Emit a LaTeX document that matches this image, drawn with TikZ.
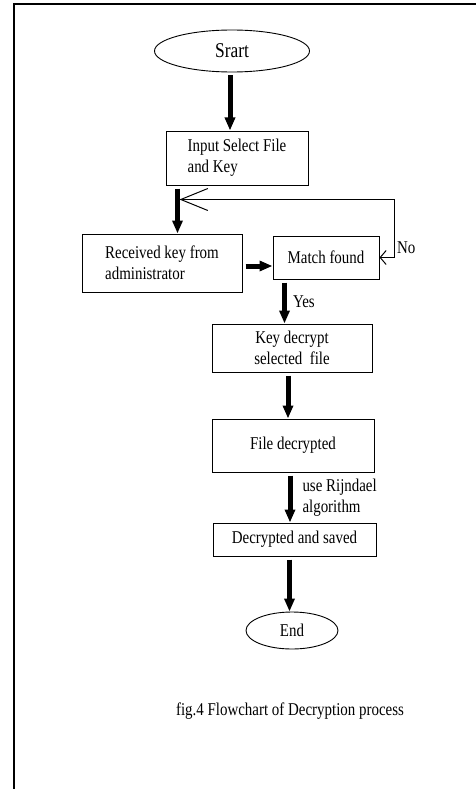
\documentclass[tikz,border=0pt]{standalone}
\usepackage{fontspec}
\setmainfont[FakeStretch=0.83]{Liberation Serif}
\usetikzlibrary{arrows.meta}
\usetikzlibrary{calc}
\usetikzlibrary{shapes.geometric}
\newcommand{\fcfont}{\fontsize{18}{21}\selectfont}
\tikzset{
  fcbox/.style={
    draw, line width=1pt, inner sep=2pt, font=\fcfont},
  fcterm/.style={
    draw, ellipse, line width=0.9pt, inner sep=0pt, font=\fcfont},
  fcarrow/.style={
    -{Triangle[length=13pt, width=10pt]}, line width=5pt,
    shorten <=3pt},
  fcloop/.style={
    {Straight Barb[length=6pt, width=14pt]}-{Straight Barb[length=27pt, width=22pt]},
    line width=1pt},
  fclabel/.style={font=\fcfont, align=left, inner sep=1pt},
}

\begin{document}
\begin{tikzpicture}[x=1pt, y=-1pt]
\useasboundingbox (0,0) rectangle (476,789);

% Page frame, left and top rules only.
\draw[line width=2pt] (14,789) -- (14,4) -- (476,4);

% Terminals and process boxes.
\node[fcterm, minimum width=155pt, minimum height=42pt,
      font=\fontsize{21}{24}\selectfont]
  (start) at (232,51) {Srart};
\node[fcbox, minimum width=142pt, minimum height=54pt, align=left]
  (input) at (237,158) {Input Select File\\and Key};
\node[fcbox, minimum width=160pt, minimum height=58pt, align=left]
  (recv) at (162,263) {Received key from\\administrator};
\node[fcbox, minimum width=106pt, minimum height=43pt]
  (match) at (326,257.5) {Match found};
\node[fcbox, minimum width=160pt, minimum height=48pt, align=center]
  (key) at (292,348) {Key decrypt\\selected~~file};
\node[fcbox, minimum width=162pt, minimum height=53pt]
  (file) at (293,445.5) {File decrypted};
\node[fcbox, minimum width=163pt, minimum height=33pt]
  (save) at (294.5,539.5) {Decrypted and saved};
\node[fcterm, minimum width=92pt, minimum height=37pt]
  (end) at (292,630.5) {End};

% Off-centre connector ends.
\coordinate (inputout) at ($(input.south west)+(12,0)$);
\coordinate (loopin) at ($(inputout)+(2,14)$);
\coordinate (matchout) at ($(match.south west)+(12,0)$);

% Main flow.
\draw[fcarrow] (start.south) ++(-2,0) coordinate (startout)
  -- (startout |- input.north);
\draw[fcarrow] (inputout) -- (inputout |- recv.north);
\draw[fcarrow] ($(recv.east)+(0,3)$) coordinate (recvout)
  -- (recvout -| match.west);
\draw[fcarrow] (matchout) -- (matchout |- key.north)
  node[fclabel, midway, right=5pt] {Yes};
\draw[fcarrow] ($(key.south)+(-4,0)$) coordinate (keyout)
  -- (keyout |- file.north);
\draw[fcarrow] ($(file.south)+(-3,0)$) coordinate (fileout)
  -- (fileout |- save.north)
  node[fclabel, midway, right=9pt] {use Rijndael\\algorithm};
\draw[fcarrow] ($(save.south)+(-5,0)$) coordinate (saveout)
  -- (saveout |- end.north);

% No match: back to the key input.
\draw[fcloop] (match.east) -- ++(15,0) |- (loopin);
\node[fclabel, anchor=west] (nolabel) at (396,248) {No};

% Caption.
\node[font=\fcfont] (caption) at (290,711)
  {fig.4 Flowchart of Decryption process};

\end{tikzpicture}
\end{document}
